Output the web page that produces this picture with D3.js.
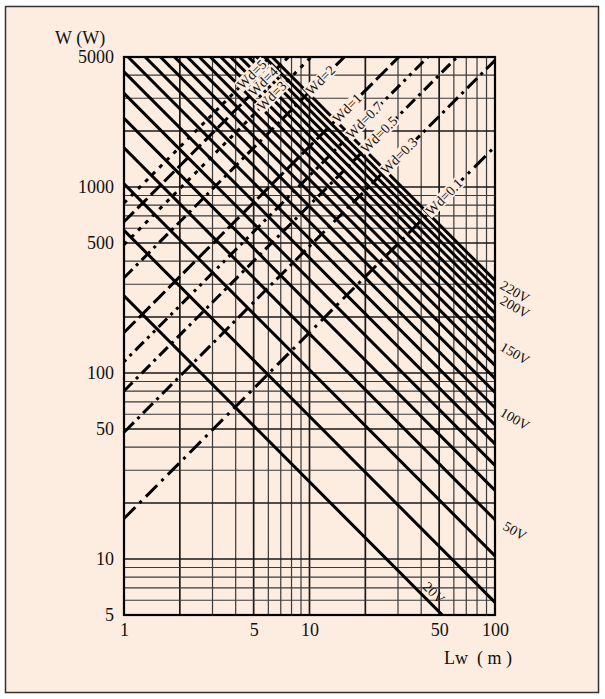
<!DOCTYPE html>
<html>
<head>
<meta charset="utf-8">
<script src="https://cdn.jsdelivr.net/npm/d3@7/dist/d3.min.js"></script>
<style>
  html, body { margin: 0; padding: 0; background: #fff; }
  svg text { font-family: 'Liberation Serif', 'Times New Roman', serif; fill: #111; }
</style>
</head>
<body>
<svg id="chart" width="605" height="699"></svg>
<script>
// axes: wire length Lw (m) and load W (W), both logarithmic
const xTicks = [1, 5, 10, 50, 100]
const yTicks = [5, 10, 50, 100, 500, 1000, 5000]
const xGridValues = [1, 2, 3, 4, 5, 6, 7, 8, 9, 10, 20, 30, 40, 50, 60, 70, 80, 90, 100]
const yGridValues = [5, 6, 7, 8, 9, 10, 20, 30, 40, 50, 60, 70, 80, 90, 100,
  200, 300, 400, 500, 600, 700, 800, 900, 1000, 2000, 3000, 4000, 5000]

// voltage lines (solid, falling): W read at Lw = 1 m, W x Lw stays constant
const voltages = [20, 30, 40, 50, 60, 70, 80, 90, 100, 110, 120, 130, 140, 150, 160, 170, 180, 190, 200, 210, 220]
const voltageWAtOneMetre = [260, 585, 1040, 1625, 2340, 3185, 4160, 5265, 6500, 7865, 9360,
  10985, 12740, 14625, 16640, 18785, 21060, 23465, 26000, 28665, 31460]
const rightLabelledVoltages = [220, 200, 150, 100, 50]
const bottomLabelledVoltage = 20

// wire lines Wd (dashed, rising): W read at Lw = 1 m, W / Lw stays constant
const wdValues = ['5', '4', '3', '2', '1', '0.7', '0.5', '0.3', '0.1']
const wdWAtOneMetre = [820, 650, 490, 325, 165, 115, 80, 48, 16.5]

// where each Wd label sits along its line (Lw)
const wdLabelLw = [4.9, 5.65, 6.28, 11.5, 16.0, 19.8, 23.8, 30.5, 53.4]
const wdDashes = ['4,6', '14,5', '4,6', '12,5,3,5', '16,5', '3,5,3,5,12,5', '12,5,3,5', '14,5,3,5', '16,6,3,6']

const BG = '#fdece0'
const plot = { left: 124, right: 495, top: 57, bottom: 615 }

const svg = d3.select('#chart')

svg.append('rect')
  .attr('x', 5.5).attr('y', 6.5)
  .attr('width', 593).attr('height', 686)
  .attr('fill', BG)
  .attr('stroke', '#333')
  .attr('stroke-width', 1.5)

const x = d3.scaleLog().domain([1, 100]).range([plot.left, plot.right])
const y = d3.scaleLog().domain([5, 5000]).range([plot.bottom, plot.top])

svg.append('clipPath').attr('id', 'plot-clip')
  .append('rect')
  .attr('x', plot.left).attr('y', plot.top)
  .attr('width', plot.right - plot.left).attr('height', plot.bottom - plot.top)

// grid
const xMajor = [1, 2, 5, 10, 20, 50, 100]
const yMajor = [5, 10, 20, 50, 100, 200, 500, 1000, 2000, 5000]
const grid = svg.append('g').attr('class', 'grid')

grid.selectAll('line.v')
  .data(xGridValues)
  .enter()
  .append('line')
  .attr('class', 'v')
  .attr('x1', d => x(d)).attr('x2', d => x(d))
  .attr('y1', plot.top).attr('y2', plot.bottom)
  .attr('stroke', d => xMajor.includes(d) ? '#1a1a1a' : '#3a3a3a')
  .attr('stroke-width', d => xMajor.includes(d) ? 1.7 : 1.2)

grid.selectAll('line.h')
  .data(yGridValues)
  .enter()
  .append('line')
  .attr('class', 'h')
  .attr('y1', d => y(d)).attr('y2', d => y(d))
  .attr('x1', plot.left).attr('x2', plot.right)
  .attr('stroke', d => yMajor.includes(d) ? '#1a1a1a' : '#3a3a3a')
  .attr('stroke-width', d => yMajor.includes(d) ? 1.7 : 1.2)

const lineGen = d3.line().x(d => x(d[0])).y(d => y(d[1]))
const lines = svg.append('g').attr('clip-path', 'url(#plot-clip)')

// voltage lines
lines.selectAll('path.volt')
  .data(voltageWAtOneMetre)
  .enter()
  .append('path')
  .attr('class', 'volt')
  .attr('d', w => lineGen([[1, w], [100, w / 100]]))
  .attr('fill', 'none')
  .attr('stroke', '#000')
  .attr('stroke-width', 3)

// wire lines
lines.selectAll('path.wd')
  .data(wdWAtOneMetre)
  .enter()
  .append('path')
  .attr('class', 'wd')
  .attr('d', w => lineGen([[1, w], [100, w * 100]]))
  .attr('fill', 'none')
  .attr('stroke', '#000')
  .attr('stroke-width', 3)
  .attr('stroke-dasharray', (w, i) => wdDashes[i])

// plot frame
svg.append('rect')
  .attr('x', plot.left).attr('y', plot.top)
  .attr('width', plot.right - plot.left).attr('height', plot.bottom - plot.top)
  .attr('fill', 'none')
  .attr('stroke', '#000')
  .attr('stroke-width', 2.2)

// axes
const fmt = d => String(d)
const yAxis = d3.axisLeft(y).tickValues(yTicks).tickFormat(fmt).tickSize(0).tickPadding(10)
const xAxis = d3.axisBottom(x).tickValues(xTicks).tickFormat(fmt).tickSize(0).tickPadding(8)

const gy = svg.append('g').attr('transform', `translate(${plot.left},0)`).call(yAxis)
const gx = svg.append('g').attr('transform', `translate(0,${plot.bottom})`).call(xAxis)
;[gx, gy].forEach(g => {
  g.select('.domain').remove()
  g.selectAll('text')
    .attr('fill', '#111')
    .style('font-family', "'Liberation Serif', serif")
    .style('font-size', '18px')
})

svg.append('text')
  .attr('x', 55).attr('y', 44)
  .style('font-size', '18px')
  .text('W (W)')

svg.append('text')
  .attr('x', 444).attr('y', 664)
  .style('font-size', '18px')
  .style('white-space', 'pre')
  .text('Lw  ( m )')

// voltage labels on the right
rightLabelledVoltages.forEach(v => {
  const w = voltageWAtOneMetre[voltages.indexOf(v)]
  const cx = plot.right + 20
  const cy = y(w / 100) + 11
  svg.append('text')
    .attr('transform', `translate(${cx},${cy}) rotate(30)`)
    .attr('text-anchor', 'middle')
    .attr('dy', '0.35em')
    .style('font-size', '14px')
    .text(v + 'V')
})

// 20V label along its line
{
  const w = voltageWAtOneMetre[voltages.indexOf(bottomLabelledVoltage)]
  const lw = 43
  svg.append('text')
    .attr('transform', `translate(${x(lw)},${y(w / lw)}) rotate(45)`)
    .attr('text-anchor', 'middle')
    .attr('dy', -5)
    .style('font-size', '14px')
    .text(bottomLabelledVoltage + 'V')
}

// Wd labels, knocked out of the lines
wdValues.forEach((wd, i) => {
  const lw = wdLabelLw[i]
  const g = svg.append('g')
    .attr('transform', `translate(${x(lw)},${y(wdWAtOneMetre[i] * lw)}) rotate(-45)`)
  const t = g.append('text')
    .attr('text-anchor', 'middle')
    .attr('dy', '0.3em')
    .style('font-size', '14px')
    .text('Wd=' + wd)
  const b = t.node().getBBox()
  g.insert('rect', 'text')
    .attr('x', b.x - 1).attr('y', b.y + 1)
    .attr('width', b.width + 2).attr('height', b.height - 2)
    .attr('fill', BG)
})
</script>
</body>
</html>
